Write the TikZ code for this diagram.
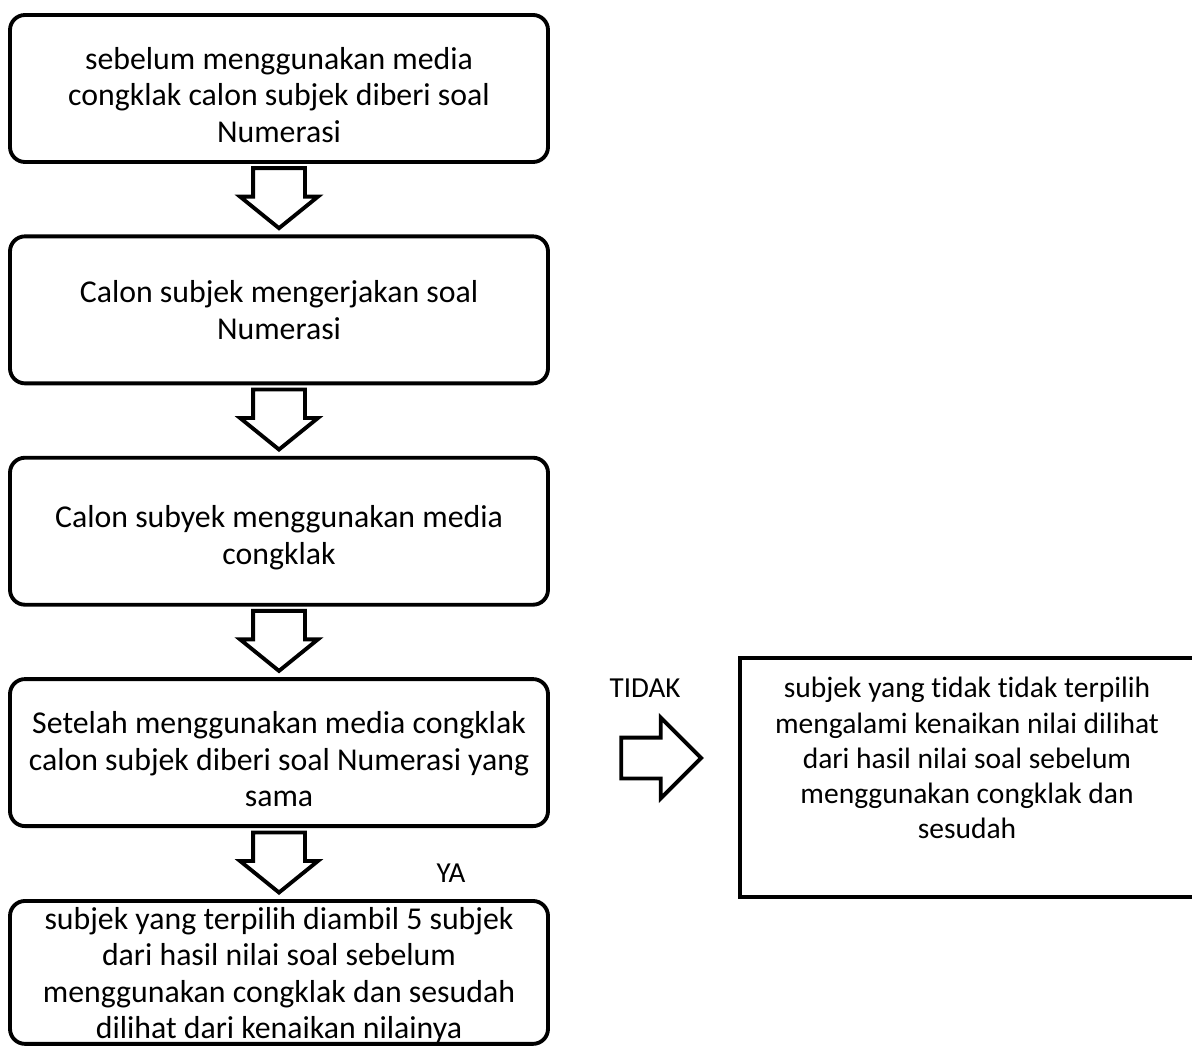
\documentclass[tikz,border=0pt]{standalone}
\usepackage{fontspec}
\setmainfont{Carlito}[Ligatures={NoCommon,NoContextual}, Contextuals=NoAlternate]
\usetikzlibrary{positioning, shapes.arrows, calc}
\newcommand{\lowstrut}[1][20pt]{\rule{0pt}{#1}}
\tikzset{
  stepbox/.style={draw, line width=2.2pt, rounded corners=0.3cm, minimum width=10.76cm, minimum height=2.94cm, align=center, inner sep=0pt, font=\fontsize{18.1}{20.8}\selectfont},
  endbox/.style={draw, line width=2.2pt, minimum width=9.08cm, minimum height=4.78cm, inner sep=0pt},
  endtext/.style={align=center, inner sep=0pt, font=\fontsize{16.8}{20}\selectfont},
  lbl/.style={font=\fontsize{16.5}{20}\selectfont},
  downarrow/.style={single arrow, draw, line width=2.2pt, rotate=-90, minimum height=1.2cm, inner xsep=0pt, inner ysep=0.48cm, single arrow head extend=0.26cm, single arrow tip angle=102},
  rightarrow/.style={single arrow, draw, line width=2.2pt, minimum height=1.6cm, inner xsep=0pt, inner ysep=0.37cm, single arrow head extend=0.4cm, single arrow tip angle=90}
}

\begin{document}
\begin{tikzpicture}
    \useasboundingbox (0,0) rectangle (23.84,-20.94);
    \node[stepbox] (b1) at (5.58,-1.77) {\lowstrut sebelum menggunakan media\\ congklak calon subjek diberi soal\\ Numerasi};
    \node[stepbox, below=1.41cm of b1] (b2) {Calon subjek mengerjakan soal\\ Numerasi};
    \node[stepbox, below=1.41cm of b2] (b3) {\lowstrut Calon subyek menggunakan media\\ congklak};
    \node[stepbox, below=1.41cm of b3] (b4) {\lowstrut Setelah menggunakan media congklak\\ calon subjek diberi soal Numerasi yang\\ sama};
    \node[stepbox, below=1.42cm of b4, minimum height=2.84cm] (b5) {\lowstrut[16pt]subjek yang terpilih diambil 5 subjek\\ dari hasil nilai soal sebelum\\ menggunakan congklak dan sesudah\\ dilihat dari kenaikan nilainya};
    \node[downarrow] (a1) at ($(b1.south)!0.5!(b2.north)+(0,0.23)$) {};
    \node[downarrow] (a2) at ($(b2.south)!0.5!(b3.north)+(0,0.23)$) {};
    \node[downarrow] (a3) at ($(b3.south)!0.5!(b4.north)+(0,0.23)$) {};
    \node[downarrow] (a4) at ($(b4.south)!0.5!(b5.north)+(0,0.23)$) {};
    % cabang TIDAK
    \node[endbox] (tidakbox) at (19.34,-15.55) {};
    \node[endtext, below=0.42cm of tidakbox.north, anchor=north] (tidaktext) {subjek yang tidak tidak terpilih\\ mengalami kenaikan nilai dilihat\\ dari hasil nilai soal sebelum\\ menggunakan congklak dan\\ sesudah};
    \node[rightarrow] (a5) at (13.02,-15.16) {};
    \node[lbl] (tidak) at (12.9,-13.76) {TIDAK};
    \node[lbl] (ya) at (9.02,-17.46) {YA};
\end{tikzpicture}
\end{document}
